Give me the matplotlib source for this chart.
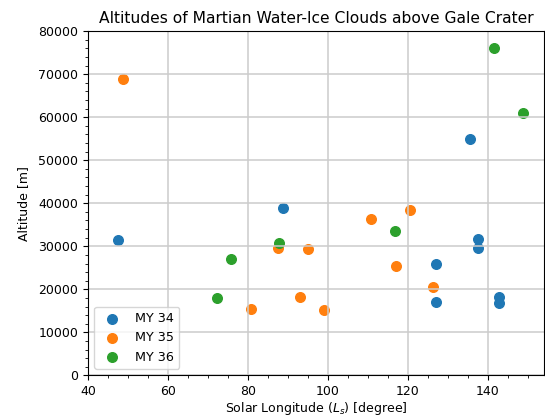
import matplotlib
matplotlib.use('Agg')
import matplotlib.pyplot as plt

# MY 34
ls_34 = [47.6, 88.7, 126.9, 127.0, 135.6, 137.5, 137.5, 142.7, 142.7]
alt_34 = [31500, 38800, 25900, 17100, 55000, 31800, 29700, 18100, 16700]
# MY 35
ls_35 = [48.75, 80.8, 87.5, 93.1, 95.0, 98.9, 110.7, 117.0, 120.5, 126.25]
alt_35 = [68800, 15400, 29700, 18300, 29300, 15200, 36400, 25400, 38400, 20500]
# MY 36
ls_36 = [72.3, 75.7, 87.75, 116.75, 141.5, 148.75]
alt_36 = [18000, 27000, 30700, 33600, 76000, 61100]

fig = plt.figure(figsize=(5.45, 4.19), dpi=100)
ax = fig.add_axes([88/545, 43.7/419, 456/545, 344/419])

ax.scatter(ls_34, alt_34, s=48, label='MY 34')
ax.scatter(ls_35, alt_35, s=48, label='MY 35')
ax.scatter(ls_36, alt_36, s=48, label='MY 36')

ax.set_xlim(40, 154)
ax.set_ylim(0, 80000)
ax.minorticks_on()
ax.grid(which='major', linewidth=1.1, color='#cccccc')
ax.tick_params(labelsize=9)
ax.set_title('Altitudes of Martian Water-Ice Clouds above Gale Crater', fontsize=11.2)
ax.set_xlabel('Solar Longitude ($L_s$) [degree]', fontsize=9, labelpad=1.5)
ax.set_ylabel('Altitude [m]', fontsize=9, labelpad=6)
ax.legend(loc='lower left', fontsize=9.2)

fig.savefig('out.png', dpi=100)
